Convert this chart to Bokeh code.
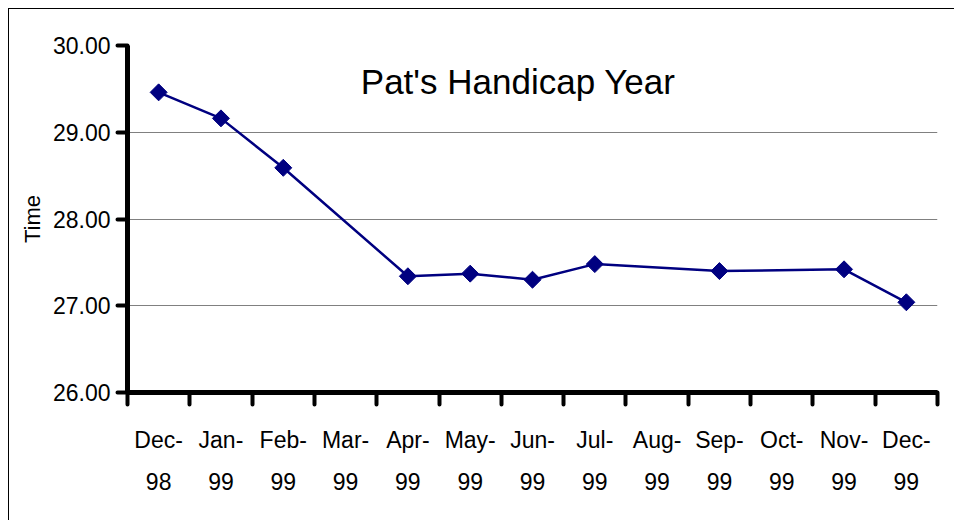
from bokeh.plotting import figure
from bokeh.models import (LinearAxis, FixedTicker, NumeralTickFormatter, Label,
                          Range1d, ColumnDataSource, Grid, CustomJSTickFormatter)
from bokeh.embed import file_html
from bokeh.resources import INLINE

# ---- data ----
categories = ["Dec-98", "Jan-99", "Feb-99", "Mar-99", "Apr-99", "May-99", "Jun-99",
              "Jul-99", "Aug-99", "Sep-99", "Oct-99", "Nov-99", "Dec-99"]
times = [29.46, 29.16, 28.59, None, 27.34, 27.37, 27.30, 27.48, None, 27.40, None, 27.42, 27.04]
y_ticks = [26, 27, 28, 29, 30]
grid_values = [27, 28, 29]
title_text = "Pat's Handicap Year"
y_label = "Time"

FONT = "Liberation Sans"
NAVY = "#000080"

months = [c.split("-")[0] + "-" for c in categories]
years = [c.split("-")[1] for c in categories]

xs = [i + 0.5 for i, v in enumerate(times) if v is not None]
ys = [v for v in times if v is not None]
src = ColumnDataSource(dict(x=xs, y=ys))

p = figure(width=946, height=512, x_range=Range1d(0, len(categories)),
           y_range=Range1d(y_ticks[0], y_ticks[-1]),
           x_axis_type=None, y_axis_type=None,
           output_backend="svg", toolbar_location=None,
           min_border_left=118, min_border_right=18, min_border_top=36, min_border_bottom=129)
p.outline_line_color = None
p.background_fill_color = "white"
p.border_fill_color = "white"
p.styles = {"border-left": "1px solid black", "border-top": "1px solid black",
            "margin-left": "8px", "margin-top": "8px"}

grid = Grid(dimension=1, ticker=FixedTicker(ticks=grid_values),
            grid_line_color="#808080", grid_line_width=1)
p.add_layout(grid)

# y axis
yaxis = LinearAxis(ticker=FixedTicker(ticks=y_ticks),
                   formatter=NumeralTickFormatter(format="0.00"),
                   axis_label=y_label,
                   axis_line_width=5, axis_line_color="black",
                   major_tick_out=10, major_tick_in=0, major_tick_line_width=4,
                   major_tick_line_cap="round",
                   minor_tick_out=0, minor_tick_in=0,
                   major_label_text_font=FONT, major_label_text_font_size="23px",
                   major_label_text_color="black", major_label_standoff=7,
                   axis_label_text_font=FONT, axis_label_text_font_size="22px",
                   axis_label_text_font_style="normal", axis_label_text_color="black",
                   axis_label_standoff=5)
p.add_layout(yaxis, "left")

# x tick axis (ticks between categories)
xt = LinearAxis(ticker=FixedTicker(ticks=list(range(len(categories) + 1))),
                axis_line_width=5, axis_line_color="black",
                major_tick_out=12, major_tick_in=0, major_tick_line_width=4,
                major_tick_line_cap="round",
                minor_tick_out=0, minor_tick_in=0,
                major_label_text_font_size="0px", major_label_standoff=0,
                formatter=CustomJSTickFormatter(code="return '';"))
p.add_layout(xt, "below")

centers = [i + 0.5 for i in range(len(categories))]
xm = LinearAxis(ticker=FixedTicker(ticks=centers),
                formatter=CustomJSTickFormatter(args=dict(labels=months),
                                                code="return labels[Math.floor(tick)];"),
                axis_line_color=None, major_tick_line_color=None,
                major_tick_out=0, major_tick_in=0, minor_tick_out=0, minor_tick_in=0,
                major_label_text_font=FONT, major_label_text_font_size="23px",
                major_label_text_color="black", major_label_standoff=22)
p.add_layout(xm, "below")

xy = LinearAxis(ticker=FixedTicker(ticks=centers),
                formatter=CustomJSTickFormatter(args=dict(labels=years),
                                                code="return labels[Math.floor(tick)];"),
                axis_line_color=None, major_tick_line_color=None,
                major_tick_out=0, major_tick_in=0, minor_tick_out=0, minor_tick_in=0,
                major_label_text_font=FONT, major_label_text_font_size="23px",
                major_label_text_color="black", major_label_standoff=17)
p.add_layout(xy, "below")

p.line("x", "y", source=src, line_color=NAVY, line_width=2.5)
p.scatter("x", "y", source=src, marker="square", size=12, angle=0.785398,
          fill_color=NAVY, line_color=NAVY)

title = Label(x=6.27, y=29.59, text=title_text, text_align="center",
              text_baseline="alphabetic", text_font=FONT, text_font_size="35px",
              text_color="black")
p.add_layout(title)

open("out.html", "w").write(file_html(p, INLINE))
